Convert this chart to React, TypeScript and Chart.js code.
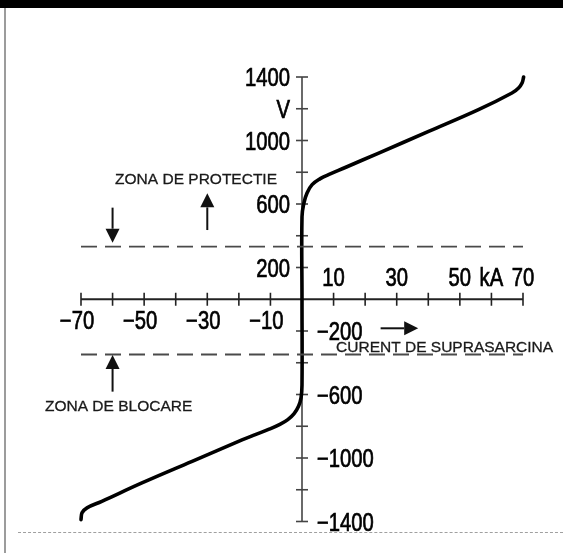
import React, { useEffect, useRef } from "react";
import { Chart, registerables } from "chart.js";

Chart.register(...registerables);

// ---- Data ----
// Current (kA) and voltage (V) of the varistor characteristic
const curveCurrentKA = [
  -70, -69.7, -68.1, -63.4, -50.7, -34.8, -19, -15, -10.6, -7, -4.5, -2.5, -1.1, -0.3, 0, 0, 0,
  0.6, 1.6, 3.2, 5.8, 8.4, 13.7, 24.3, 40.1, 55.9, 66.5, 68.6, 69.7, 70.2,
];
const curveVoltageV = [
  -1388, -1346, -1314, -1273, -1157, -1021, -886, -854, -820, -788, -758, -720, -674, -620, -540, 0, 520,
  606, 669, 722, 760, 785, 830, 921, 1057, 1194, 1299, 1331, 1362, 1400,
];

// Dashed threshold levels (V) and their extent (kA)
const protectionLevelV = 332;
const blockingLevelV = -348;
const levelExtentKA = [-70, 70];

// Axis ticks
const xTickValues = [-70, -60, -50, -40, -30, -20, -10, 0, 10, 20, 30, 40, 50, 60, 70];
const yTickValues = [1400, 1200, 1000, 800, 600, 400, 200, -200, -400, -600, -800, -1000, -1200, -1400];

// Tick labels
const xLabelsBelowValues = [-70, -50, -30, -10];
const xLabelsBelow = ["\u221270", "\u221250", "\u221230", "\u221210"];
const xLabelsAboveValues = [10, 30, 50, 60, 70];
const xLabelsAbove = ["10", "30", "50", "kA", "70"];
const yLabelsLeftValues = [1400, 1200, 1000, 600, 200];
const yLabelsLeft = ["1400", "V", "1000", "600", "200"];
const yLabelsRightValues = [-200, -600, -1000, -1400];
const yLabelsRight = ["\u2212200", "\u2212600", "\u22121000", "\u22121400"];

// Annotation texts (anchor in kA / V)
const zoneTexts = ["ZONA DE PROTECTIE", "ZONA DE BLOCARE", "CURENT DE SUPRASARCINA"];
const zoneTextKA = [-59.2, -81.4, 10.8];
const zoneTextV = [726, -702, -331];

// Arrows: from (kA, V) to (kA, V)
const arrowFromKA = [-30, -60, -60, 24.9];
const arrowFromV = [436, 577, -582, -183];
const arrowToKA = [-30, -60, -60, 36.8];
const arrowToV = [667, 356, -351, -183];

const TICK_FONT = '25px "Liberation Sans", Arial, sans-serif';
const TICK_SQUEEZE = 0.81;
const ZONE_FONT = '15.5px "Liberation Sans", Arial, sans-serif';

function drawSqueezed(ctx: CanvasRenderingContext2D, text: string, x: number, y: number, align: CanvasTextAlign) {
  ctx.save();
  ctx.translate(x, y);
  ctx.scale(TICK_SQUEEZE, 1);
  ctx.textAlign = align;
  ctx.textBaseline = "alphabetic";
  ctx.fillText(text, 0, 0);
  ctx.lineWidth = 0.7;
  ctx.strokeText(text, 0, 0);
  ctx.restore();
}

const axesPlugin = {
  id: "centerAxes",
  beforeDatasetsDraw(chart: any) {
    const { ctx } = chart;
    const xs = chart.scales.x;
    const ys = chart.scales.y;
    const x0 = xs.getPixelForValue(0);
    const y0 = ys.getPixelForValue(0);
    ctx.save();
    ctx.lineCap = "butt";
    // horizontal axis
    ctx.strokeStyle = "#222";
    ctx.lineWidth = 2;
    ctx.beginPath();
    ctx.moveTo(xs.getPixelForValue(xTickValues[0]), y0);
    ctx.lineTo(xs.getPixelForValue(xTickValues[xTickValues.length - 1]), y0);
    ctx.stroke();
    ctx.lineWidth = 1.6;
    xTickValues.forEach((v) => {
      if (v === 0) return;
      const px = xs.getPixelForValue(v);
      ctx.beginPath();
      ctx.moveTo(px, y0 - 6.5);
      ctx.lineTo(px, y0 + 6.5);
      ctx.stroke();
    });
    // vertical axis
    ctx.strokeStyle = "#444";
    ctx.lineWidth = 1.6;
    ctx.beginPath();
    ctx.moveTo(x0, ys.getPixelForValue(1400));
    ctx.lineTo(x0, ys.getPixelForValue(-1400));
    ctx.stroke();
    yTickValues.forEach((v) => {
      const py = ys.getPixelForValue(v);
      ctx.beginPath();
      ctx.moveTo(x0 - 6, py);
      ctx.lineTo(x0 + 6, py);
      ctx.stroke();
    });
    ctx.restore();
  },
  afterDatasetsDraw(chart: any) {
    const { ctx } = chart;
    const xs = chart.scales.x;
    const ys = chart.scales.y;
    const x0 = xs.getPixelForValue(0);
    const y0 = ys.getPixelForValue(0);
    const capHalf = 9;
    ctx.save();
    ctx.fillStyle = "#000";
    ctx.strokeStyle = "#000";
    ctx.font = TICK_FONT;
    xLabelsBelowValues.forEach((v, i) => {
      drawSqueezed(ctx, xLabelsBelow[i], xs.getPixelForValue(v) - 4, y0 + 21 + capHalf, "center");
    });
    xLabelsAboveValues.forEach((v, i) => {
      drawSqueezed(ctx, xLabelsAbove[i], xs.getPixelForValue(v), y0 - 22 + capHalf, "center");
    });
    yLabelsLeftValues.forEach((v, i) => {
      drawSqueezed(ctx, yLabelsLeft[i], x0 - 12, ys.getPixelForValue(v) + capHalf, "right");
    });
    yLabelsRightValues.forEach((v, i) => {
      drawSqueezed(ctx, yLabelsRight[i], x0 + 15, ys.getPixelForValue(v) + capHalf, "left");
    });

    // zone texts
    ctx.font = ZONE_FONT;
    ctx.fillStyle = "#1a1a1a";
    ctx.strokeStyle = "#1a1a1a";
    ctx.lineWidth = 0.3;
    ctx.textAlign = "left";
    ctx.textBaseline = "alphabetic";
    zoneTexts.forEach((t, i) => {
      const px = xs.getPixelForValue(zoneTextKA[i]);
      const py = ys.getPixelForValue(zoneTextV[i]);
      ctx.fillText(t, px, py);
      ctx.strokeText(t, px, py);
    });

    // arrows
    ctx.strokeStyle = "#111";
    ctx.fillStyle = "#111";
    ctx.lineWidth = 2;
    arrowFromKA.forEach((_, i) => {
      const fx = xs.getPixelForValue(arrowFromKA[i]);
      const fy = ys.getPixelForValue(arrowFromV[i]);
      const tx = xs.getPixelForValue(arrowToKA[i]);
      const ty = ys.getPixelForValue(arrowToV[i]);
      const len = Math.hypot(tx - fx, ty - fy);
      const ux = (tx - fx) / len;
      const uy = (ty - fy) / len;
      const head = 14;
      const half = 7;
      const bx = tx - ux * head;
      const by = ty - uy * head;
      ctx.beginPath();
      ctx.moveTo(fx, fy);
      ctx.lineTo(bx, by);
      ctx.stroke();
      ctx.beginPath();
      ctx.moveTo(tx, ty);
      ctx.lineTo(bx - uy * half, by + ux * half);
      ctx.lineTo(bx + uy * half, by - ux * half);
      ctx.closePath();
      ctx.fill();
    });
    ctx.restore();
  },
};

export default function App() {
  const canvasRef = useRef<HTMLCanvasElement>(null);

  useEffect(() => {
    if (!canvasRef.current) return;
    const curve = curveCurrentKA.map((x, i) => ({ x, y: curveVoltageV[i] }));
    const protection = levelExtentKA.map((x) => ({ x, y: protectionLevelV }));
    const blocking = levelExtentKA.map((x) => ({ x, y: blockingLevelV }));
    const chart = new Chart(canvasRef.current, {
      type: "scatter",
      data: {
        datasets: [
          {
            data: protection,
            showLine: true,
            borderColor: "#4a4a4a",
            borderWidth: 1.8,
            borderDash: [16, 8],
            pointRadius: 0,
            clip: false,
          } as any,
          {
            data: blocking,
            showLine: true,
            borderColor: "#4a4a4a",
            borderWidth: 1.8,
            borderDash: [16, 8],
            pointRadius: 0,
            clip: false,
          } as any,
          {
            data: curve,
            showLine: true,
            borderColor: "#000",
            borderWidth: 3.6,
            pointRadius: 0,
            tension: 0.4,
            borderCapStyle: "round",
            borderJoinStyle: "round",
            clip: false,
          } as any,
        ],
      },
      options: {
        animation: false,
        responsive: false,
        events: [],
        layout: { padding: { left: 81, right: 40, top: 77, bottom: 33.5 } },
        scales: {
          x: { type: "linear", min: -70, max: 70, display: false },
          y: { type: "linear", min: -1400, max: 1400, display: false },
        },
        plugins: {
          legend: { display: false },
          tooltip: { enabled: false },
        },
      },
      plugins: [axesPlugin],
    });
    return () => chart.destroy();
  }, []);

  return (
    <div style={{ position: "absolute", left: 0, top: 0, width: 563, height: 555, background: "#fff", overflow: "hidden" }}>
      <div style={{ position: "absolute", left: 0, top: 0, width: 563, height: 8, background: "#000" }} />
      <div style={{ position: "absolute", left: 4, top: 8, width: 2, height: 545, background: "#9c9c9c" }} />
      <div style={{ position: "absolute", left: 18, top: 532, width: 545, height: 0, borderTop: "1px dashed #a0a0a0" }} />
      <canvas ref={canvasRef} width={563} height={555} style={{ position: "absolute", left: 0, top: 0, display: "block" }} />
    </div>
  );
}
